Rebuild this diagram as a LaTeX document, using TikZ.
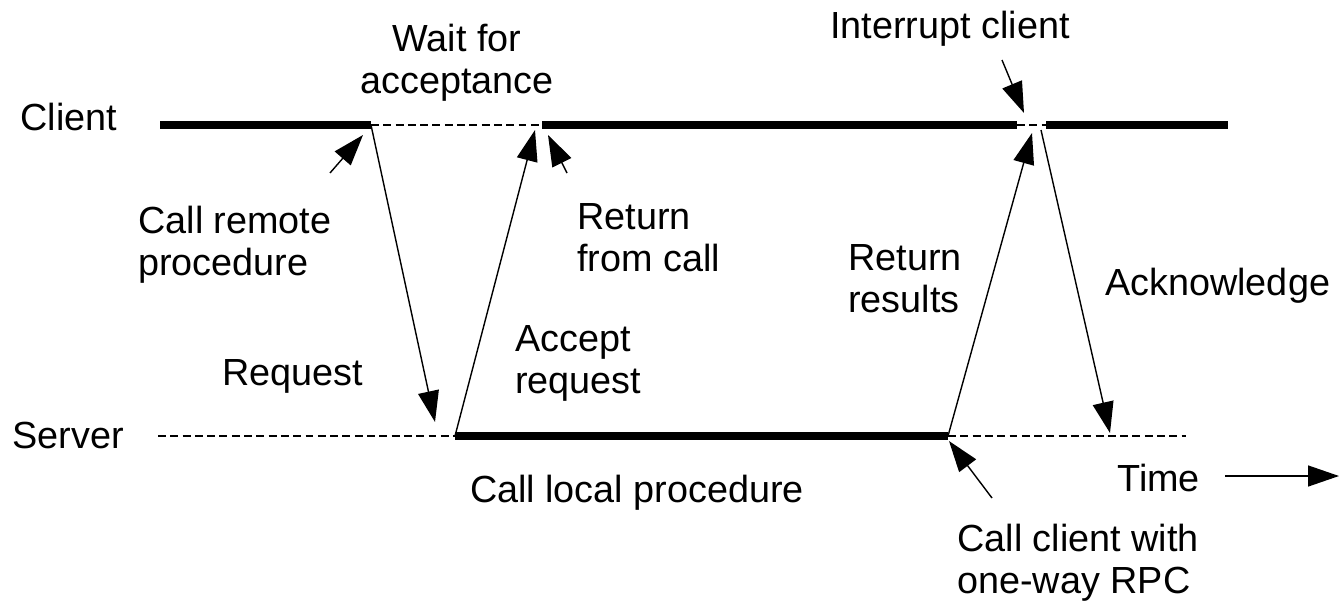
\documentclass[tikz,border=0pt]{standalone}
\usepackage{fontspec}
\setmainfont{Liberation Sans}
\usetikzlibrary{positioning, arrows.meta}

\begin{document}
\begin{tikzpicture}[x=0.02cm, y=-0.02cm,
		lbl/.style={inner sep=0pt, font=\fontsize{21.5}{23.8}\selectfont, align=left},
		busy/.style={line width=0.16cm},
		idle/.style={line width=0.8pt, dash pattern=on 4.5pt off 2.5pt},
		msg/.style={line width=0.8pt, -{Triangle[length=0.62cm, width=0.42cm]}}]
		\useasboundingbox (0,0) rectangle (1339,605);
		
		% client and server time lines
		\coordinate (C0) at (160,125);
		\coordinate (C1) at (371,125);
		\coordinate (C2) at (542,125);
		\coordinate (C3) at (1017,125);
		\coordinate (C4) at (1046,125);
		\coordinate (C5) at (1228,125);
		\coordinate (S0) at (158,436);
		\coordinate (S1) at (455,436);
		\coordinate (S2) at (948,436);
		\coordinate (S3) at (1186,436);
		
		% message ends and pointer ends
		\coordinate (Rq) at (435,422);
		\coordinate (Ac) at (535,130);
		\coordinate (Rr) at (1032,133);
		\coordinate (Ak0) at (1041,130);
		\coordinate (Ak) at (1110,433);
		\coordinate (P1a) at (330,173);
		\coordinate (P1b) at (363,135);
		\coordinate (P2a) at (567,173);
		\coordinate (P2b) at (548,135);
		\coordinate (P3a) at (1002,60);
		\coordinate (P3b) at (1024,113);
		\coordinate (P4a) at (992,498);
		\coordinate (P4b) at (949,441);
		\coordinate (T0) at (1225,476);
		\coordinate (T1) at (1339,476);
		
		% base of a two-line label is its last line
		\node[lbl, anchor=base west] (client) at (20,130) {Client};
		\node[lbl, anchor=base west] (server) at (12,448) {Server};
		\node[lbl, anchor=base, align=center] (wait) at (457,93) {Wait for\\acceptance};
		\node[lbl, anchor=base] (intr) at (950,38) {Interrupt client};
		\node[lbl, anchor=base west] (remote) at (138,275) {Call remote\\procedure};
		\node[lbl, anchor=base west] (retcall) at (577,271) {Return\\from call};
		\node[lbl, anchor=base] (req) at (293,385) {Request};
		\node[lbl, anchor=base west] (accept) at (515,393) {Accept\\request};
		\node[lbl, anchor=base west] (results) at (848,312) {Return\\results};
		\node[lbl, anchor=base west] (ack) at (1105,295) {Acknowledge};
		\node[lbl, anchor=base] (local) at (637,502) {Call local procedure};
		\node[lbl, anchor=base west] (time) at (1117,491) {Time};
		\node[lbl, anchor=base west] (oneway) at (957,593) {Call client with\\one-way RPC};
		
		\draw[busy] (C0) -- (C1);
		\draw[busy] (C2) -- (C3);
		\draw[busy] (C4) -- (C5);
		\draw[idle] (C1) -- (C2);
		\draw[idle] (C3) -- (C4);
		\draw[idle] (S0) -- (S1);
		\draw[busy] (S1) -- (S2);
		\draw[idle] (S2) -- (S3);
		
		\draw[msg] (C1) -- (Rq);
		\draw[msg] (S1) -- (Ac);
		\draw[msg] (S2) -- (Rr);
		\draw[msg] (Ak0) -- (Ak);
		\draw[msg] (P1a) -- (P1b);
		\draw[msg] (P2a) -- (P2b);
		\draw[msg] (P3a) -- (P3b);
		\draw[msg] (P4a) -- (P4b);
		\draw[msg] (T0) -- (T1);
	\end{tikzpicture}
\end{document}
